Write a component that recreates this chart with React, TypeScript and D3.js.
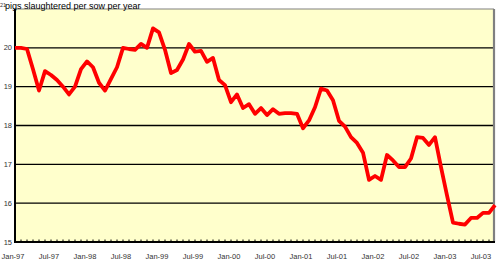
import React from "react";
import * as d3 from "d3";

const title = "pigs slaughtered per sow per year";
const startYear = 1997;
const values: number[] = [
  20.0, 20.0, 19.97, 19.45, 18.9, 19.4, 19.3, 19.17, 19.0, 18.8,
  19.0, 19.45, 19.65, 19.5, 19.1, 18.9, 19.2, 19.5, 20.0, 19.97,
  19.95, 20.1, 20.0, 20.5, 20.4, 19.95, 19.35, 19.43, 19.7, 20.1,
  19.9, 19.92, 19.64, 19.74, 19.17, 19.04, 18.6, 18.8, 18.45, 18.55,
  18.3, 18.45, 18.27, 18.42, 18.3, 18.32, 18.32, 18.3, 17.93, 18.13,
  18.47, 18.95, 18.9, 18.65, 18.12, 17.97, 17.7, 17.55, 17.3, 16.6,
  16.7, 16.6, 17.24, 17.1, 16.93, 16.93, 17.15, 17.7, 17.68, 17.5,
  17.7, 16.93, 16.2, 15.5, 15.47, 15.45, 15.62, 15.62, 15.75, 15.75,
  15.95,
];
const yTicks = [15, 16, 17, 18, 19, 20, 21];
const monthNames = ["Jan", "Jul"];

export default function App() {
  const W = 498, H = 261;
  const left = 15, right = 494, top = 9, bottom = 242;
  const x = d3.scaleLinear().domain([0, 80]).range([left, left + 480]);
  const y = d3.scaleLinear().domain([15, 21]).range([bottom, top]);
  const line = d3.line<number>().x((_, i) => x(i)).y((d) => y(d));
  const months = d3.range(0, 80);
  const labels = d3.range(0, 80, 6).map((i) => {
    const yr = startYear + Math.floor(i / 12);
    const name = monthNames[(i % 12) / 6];
    return { i, text: `${name}-${String(yr % 100).padStart(2, "0")}` };
  });
  const font = "Liberation Sans, Arial, sans-serif";
  return (
    <svg width={W} height={H} style={{ position: "absolute", left: 0, top: 0 }}>
      <rect x={0} y={0} width={W} height={H} fill="#fff" />
      <defs>
        <clipPath id="pc">
          <rect x={left} y={top - 3} width={right - left + 4} height={bottom - top + 6} />
        </clipPath>
      </defs>
      <rect x={left} y={top} width={right - left} height={bottom - top} fill="#FFFFCC" />
      {yTicks.slice(1, -1).map((t) => (
        <line key={t} x1={left} x2={right} y1={y(t)} y2={y(t)} stroke="#000" strokeWidth={1.3} />
      ))}
      <line x1={left} x2={right} y1={top} y2={top} stroke="#808080" strokeWidth={1.2} />
      <line x1={right} x2={right} y1={top} y2={bottom} stroke="#808080" strokeWidth={2.2} />
      {months.map((i) => (
        <line key={i} x1={x(i)} x2={x(i)} y1={bottom} y2={bottom - 2.5} stroke="#000" strokeWidth={1} />
      ))}
      <line x1={left} x2={right + 1} y1={bottom} y2={bottom} stroke="#000" strokeWidth={2} />
      <line x1={left} x2={left} y1={top} y2={bottom + 1} stroke="#000" strokeWidth={2} />
      <path d={line(values) || ""} fill="none" stroke="#FF0000" strokeWidth={3.8} strokeLinejoin="round" clipPath="url(#pc)" />
      {yTicks.map((t) => (
        <text key={t} x={t === 21 ? 6 : 12} y={t === 21 ? y(t) - 2 : y(t) + 2.5} textAnchor="end" fontFamily={font} fontSize={t === 21 ? 5.5 : 7.5} fill="#333">
          {t}
        </text>
      ))}
      {labels.map((l) => (
        <text key={l.i} x={x(l.i) - 2} y={259} textAnchor="middle" fontFamily={font} fontSize={7.5} fill="#333">
          {l.text}
        </text>
      ))}
      <text x={5} y={8.5} fontFamily={font} fontSize={9} fill="#000">
        {title}
      </text>
    </svg>
  );
}
